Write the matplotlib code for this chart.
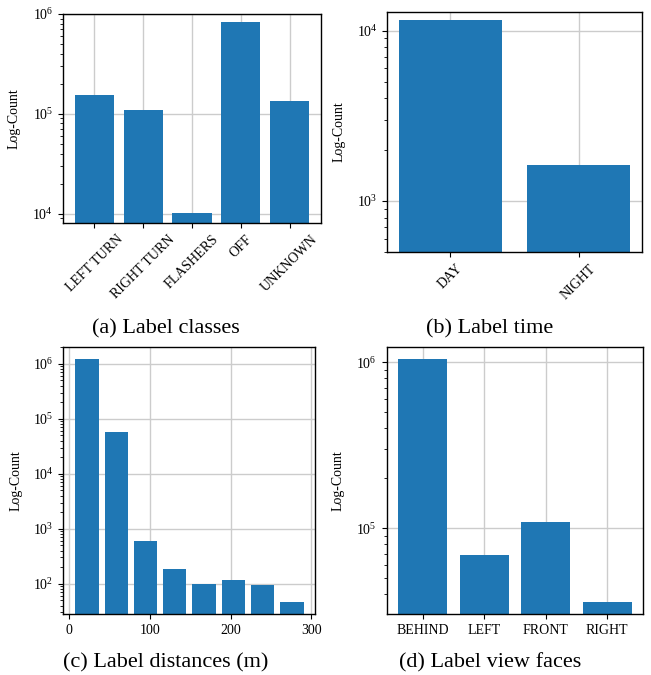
import matplotlib
matplotlib.use("Agg")
import matplotlib.pyplot as plt
import numpy as np

plt.rcParams['font.family'] = ['Liberation Serif', 'DejaVu Serif']
plt.rcParams['mathtext.fontset'] = 'custom'
plt.rcParams['mathtext.rm'] = 'Liberation Serif'
plt.rcParams['mathtext.it'] = 'Liberation Serif:italic'
plt.rcParams['mathtext.bf'] = 'Liberation Serif:bold'

BLUE = '#1f77b4'
GRID = '#cccccc'

# (a) Label classes
class_names = ['LEFT TURN', 'RIGHT TURN', 'FLASHERS', 'OFF', 'UNKNOWN']
class_counts = [153000, 108000, 10100, 828000, 133000]

# (b) Label time
time_names = ['DAY', 'NIGHT']
time_counts = [11560, 1630]

# (c) Label distances (m)
dist_centers = [22.0, 58.3, 94.6, 130.9, 167.2, 203.5, 239.8, 276.1]
dist_counts = [1230000, 58700, 597, 185, 100, 117, 95, 46.5]
dist_ticks = [0, 100, 200, 300]

# (d) Label view faces
face_names = ['BEHIND', 'LEFT', 'FRONT', 'RIGHT']
face_counts = [1047000, 69000, 109000, 36000]

W, H = 651, 675
fig = plt.figure(figsize=(W / 100, H / 100), dpi=100)


def box(l, r, t, b):
    return [l / W, 1 - b / H, (r - l) / W, (b - t) / H]


def style(ax):
    ax.set_yscale('log')
    ax.set_axisbelow(True)
    ax.grid(True, which='major', color=GRID, linewidth=1.0)
    for s in ax.spines.values():
        s.set_color('black')
        s.set_linewidth(1.0)
    ax.tick_params(axis='both', which='major', labelsize=10, length=3.5, width=0.8)
    ax.tick_params(axis='y', which='minor', length=2, width=0.6)
    ax.set_ylabel('Log-Count', fontsize=10)
    ax.yaxis.set_label_coords(-0.163, 0.5)


ax_a = fig.add_axes(box(63, 321, 14, 223))
xa = np.arange(len(class_names))
ax_a.bar(xa, class_counts, width=0.8, color=BLUE)
style(ax_a)
ax_a.set_ylim(8060, 1.0e6)
ax_a.set_xticks(xa)
ax_a.set_xticklabels(class_names, rotation=45, ha='center')

ax_b = fig.add_axes(box(387.3, 641.7, 11.7, 252.3))
xb = np.arange(len(time_names))
ax_b.bar(xb, time_counts, width=0.8, color=BLUE)
style(ax_b)
ax_b.set_ylim(500, 12900)
ax_b.set_xticks(xb)
ax_b.set_xticklabels(time_names, rotation=45, ha='center')

ax_c = fig.add_axes(box(63.3, 315, 347.3, 614.3))
ax_c.bar(dist_centers, dist_counts, width=29.0, color=BLUE)
style(ax_c)
ax_c.set_ylim(27.7, 2.01e6)
ax_c.set_xticks(dist_ticks)
ax_c.set_xlim(-7.4, 304.8)

ax_d = fig.add_axes(box(386.7, 643.3, 347.3, 614.3))
xd = np.arange(len(face_names))
ax_d.bar(xd, face_counts, width=0.8, color=BLUE)
style(ax_d)
ax_d.set_ylim(30300, 1.23e6)
ax_d.set_xticks(xd)
ax_d.set_xticklabels(face_names)

fig.text(166 / W, 1 - 329 / H, '(a) Label classes', ha='center', va='center', fontsize=16)
fig.text(490 / W, 1 - 329 / H, '(b) Label time', ha='center', va='center', fontsize=16)
fig.text(166 / W, 1 - 663 / H, '(c) Label distances (m)', ha='center', va='center', fontsize=16)
fig.text(490 / W, 1 - 663 / H, '(d) Label view faces', ha='center', va='center', fontsize=16)

fig.savefig('out.png', dpi=100)
